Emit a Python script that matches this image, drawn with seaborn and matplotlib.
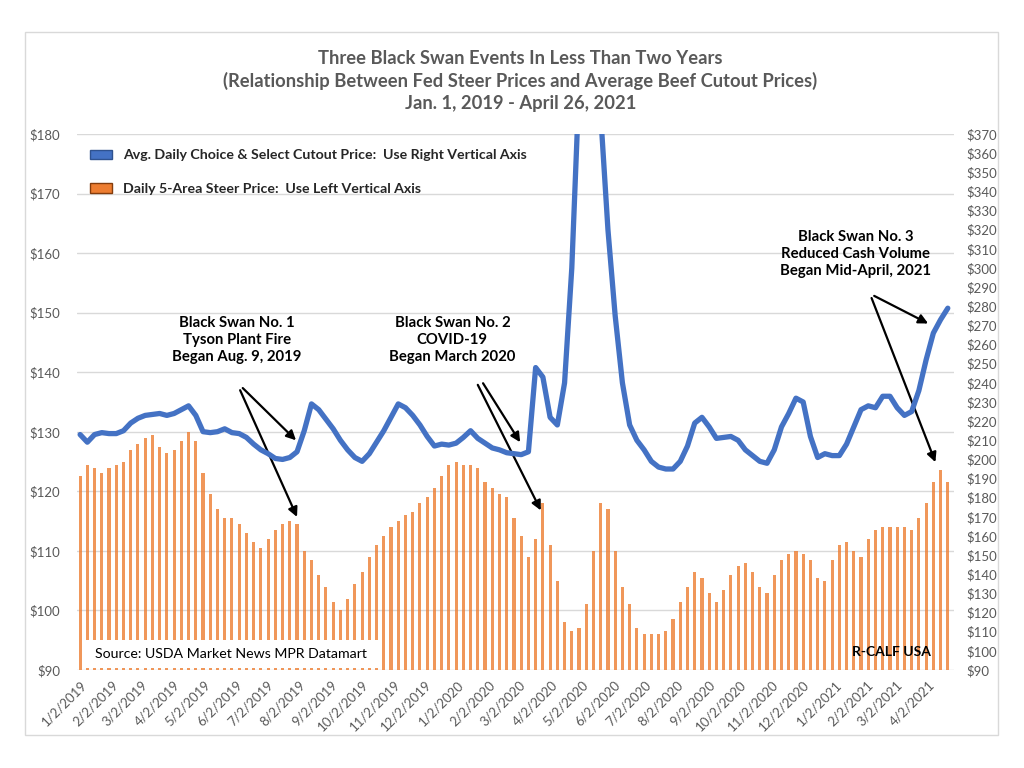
import pandas as pd
import seaborn as sns
import matplotlib.pyplot as plt
from matplotlib.patches import Patch, Rectangle

# Weekly readings, first week starting 1/2/2019
week_start = '2019-01-02'

# Daily 5-Area steer price ($/cwt, left axis)
steer_price = [
    122.5, 124.5, 124, 123, 124, 124.5, 125, 127, 128, 129,
    129.5, 127.5, 126.5, 127, 128.5, 130, 128.5, 123, 119.5, 117,
    115.5, 115.5, 114.5, 113, 111.5, 110.5, 112, 113.5, 114.5, 115,
    114.5, 110, 108.5, 106, 104, 101.5, 100, 102, 104.5, 106.5,
    109, 111, 112.5, 114, 115, 116, 116.5, 118, 119, 120.5,
    122.5, 124.5, 125, 124.5, 124.5, 124, 121.5, 120.5, 119.5, 119,
    115.5, 112.5, 109, 112, 118, 111, 105, 98, 96.5, 97,
    101, 110, 118, 117, 110, 104, 101, 97, 96, 96,
    96, 96.5, 98.5, 101.5, 104, 106.5, 105.5, 103, 101.5, 103.5,
    106, 107.5, 108, 106.5, 104, 103, 106, 108.5, 109.5, 110,
    109.5, 108.5, 105.5, 105, 108.5, 111, 111.5, 110, 109, 112,
    113.5, 114, 114, 114, 114, 113.5, 115.5, 118, 121.5, 123.5,
    121.5,
]

# Avg. daily Choice & Select cutout price ($/cwt, right axis)
cutout_price = [
    213, 209, 213, 214, 213.5, 213.5, 215, 219, 221.5, 223,
    223.5, 224, 223, 224, 226, 228, 223, 214.5, 214, 214.5,
    216, 214, 213.5, 211.5, 208, 205, 203, 200.5, 200, 201,
    204, 215, 229, 226, 221, 216, 210, 205, 201, 199,
    203, 209, 215, 222, 229, 227, 223, 218, 212, 207,
    208, 207.5, 208.5, 211.5, 215, 211, 208.5, 206, 205, 203.5,
    203, 202.5, 204, 248, 243, 222, 218, 240, 300, 395,
    440, 455, 380, 320, 275, 240, 218, 210, 205, 199,
    196, 195, 195, 199, 207, 219, 222, 217, 211, 211.5,
    212, 210, 205, 202, 199, 198, 205, 217, 224, 232,
    230, 212, 201, 203, 202, 202, 208, 217, 226, 228,
    227, 233, 233, 227, 223, 225, 236, 252, 266, 273,
    279,
]

left_ticks = list(range(90, 181, 10))
right_ticks = list(range(90, 371, 10))
month_ticks = pd.date_range('2019-01-01', '2021-04-01', freq='MS') + pd.Timedelta(days=1)

title_lines = ['Three Black Swan Events In Less Than Two Years',
               '(Relationship Between Fed Steer Prices and Average Beef Cutout Prices)',
               'Jan. 1, 2019 - April 26, 2021']

sns.set_theme(style='white')
plt.rcParams['font.family'] = ['Lato', 'DejaVu Sans']

weeks = pd.date_range(week_start, periods=len(steer_price), freq='7D')
data = pd.DataFrame({'Week': weeks, 'Steer': steer_price, 'Cutout': cutout_price})

fig = plt.figure(figsize=(10.24, 7.68), dpi=100)
ax = fig.add_axes([77 / 1024, 1 - 670 / 768, 877 / 1024, 536 / 768])
ax2 = ax.twinx()

grey = '#595959'
orange = '#ED7D31'
blue = '#4472C4'

# Steer price bars on the left axis
ax.bar(data['Week'], data['Steer'], width=3.0, color=orange, alpha=0.8, linewidth=0, zorder=2)
ax.set_ylim(90, 180)
ax.set_yticks(left_ticks)
ax.set_yticklabels(['$%d' % t for t in left_ticks])
ax.set_xlim(pd.Timestamp('2018-12-30'), pd.Timestamp('2021-04-27'))
ax.set_xticks(month_ticks)
ax.set_xticklabels(['%d/%d/%d' % (d.month, d.day, d.year) for d in month_ticks],
                   rotation=45, ha='right', rotation_mode='anchor')
ax.yaxis.grid(True, color='#D9D9D9', linewidth=1)
ax.set_axisbelow(True)
ax.set_xlabel('')
ax.set_ylabel('')
ax.tick_params(axis='both', length=0, labelsize=9.5, colors=grey, pad=6)
ax.tick_params(axis='y', pad=12)

# Cutout price line on the right axis
sns.lineplot(x='Week', y='Cutout', data=data, ax=ax2, color=blue, linewidth=3.8)
ax2.set_ylim(90, 370)
ax2.set_yticks(right_ticks)
ax2.set_yticklabels(['$%d' % t for t in right_ticks])
ax2.set_ylabel('')
ax2.tick_params(axis='y', length=0, labelsize=9.5, colors=grey, pad=9)

for a in (ax, ax2):
    for side in ['left', 'right', 'top', 'bottom']:
        a.spines[side].set_visible(False)

handles = [Patch(facecolor=blue, edgecolor='#2F528F', label='Avg. Daily Choice & Select Cutout Price:  Use Right Vertical Axis'),
           Patch(facecolor=orange, edgecolor='#843C0C', label='Daily 5-Area Steer Price:  Use Left Vertical Axis')]
leg = ax2.legend(handles=handles, loc='upper left', bbox_to_anchor=(0.0, 0.995), frameon=False,
                 prop={'weight': 'bold', 'size': 10.2}, handlelength=1.6, handleheight=0.7,
                 handletextpad=0.75, labelspacing=1.55)

# Annotations with arrows
note_style = dict(ha='center', va='center', fontsize=10.7, fontweight='bold', color='black',
                  linespacing=1.25, textcoords='axes fraction')
arrow = dict(arrowstyle='-|>', color='black', lw=1.6, mutation_scale=14, shrinkA=0, shrinkB=0)

ax2.annotate('Black Swan No. 1\nTyson Plant Fire\nBegan Aug. 9, 2019', xy=(0.182, 0.616),
             xycoords='axes fraction', **note_style)
ax2.annotate('', xy=(pd.Timestamp('2019-07-30'), 210), xytext=(0.189, 0.526),
             textcoords='axes fraction', arrowprops=arrow)
ax.annotate('', xy=(pd.Timestamp('2019-07-31'), 115.7), xytext=(0.186, 0.522),
            textcoords='axes fraction', arrowprops=arrow, zorder=5)

ax2.annotate('Black Swan No. 2\nCOVID-19\nBegan March 2020', xy=(0.428, 0.616),
             xycoords='axes fraction', **note_style)
ax2.annotate('', xy=(pd.Timestamp('2020-03-03'), 209), xytext=(0.463, 0.535),
             textcoords='axes fraction', arrowprops=arrow)
ax.annotate('', xy=(pd.Timestamp('2020-03-23'), 116.8), xytext=(0.457, 0.532),
            textcoords='axes fraction', arrowprops=arrow, zorder=5)

ax2.annotate('Black Swan No. 3\nReduced Cash Volume\nBegan Mid-April, 2021', xy=(0.888, 0.776),
             xycoords='axes fraction', **note_style)
ax2.annotate('', xy=(pd.Timestamp('2021-04-02'), 271), xytext=(0.909, 0.698),
             textcoords='axes fraction', arrowprops=arrow)
ax.annotate('', xy=(pd.Timestamp('2021-04-09'), 124.9), xytext=(0.906, 0.694),
            textcoords='axes fraction', arrowprops=arrow, zorder=5)

# Source box and signature
ax.add_patch(Rectangle((0.010, 0.004), 0.337, 0.052, transform=ax.transAxes,
                       facecolor='white', edgecolor='none', zorder=4))
ax.text(0.021, 0.030, 'Source: USDA Market News MPR Datamart', transform=ax.transAxes,
        ha='left', va='center', fontsize=10.2, color='black', zorder=5)
ax.text(0.929, 0.034, 'R-CALF USA', transform=ax.transAxes, ha='center', va='center',
        fontsize=10, fontweight='bold', color='black', zorder=5)

fig.text(0.508, 0.8945, '\n'.join(title_lines), ha='center', va='center', fontsize=13.2,
         fontweight='bold', color=grey, linespacing=1.36)

fig.patches.append(Rectangle((25 / 1024, 1 - 735 / 768), 973 / 1024, 703 / 768,
                             transform=fig.transFigure, facecolor='none',
                             edgecolor='#D9D9D9', linewidth=1))

plt.savefig('out.png', dpi=100)
